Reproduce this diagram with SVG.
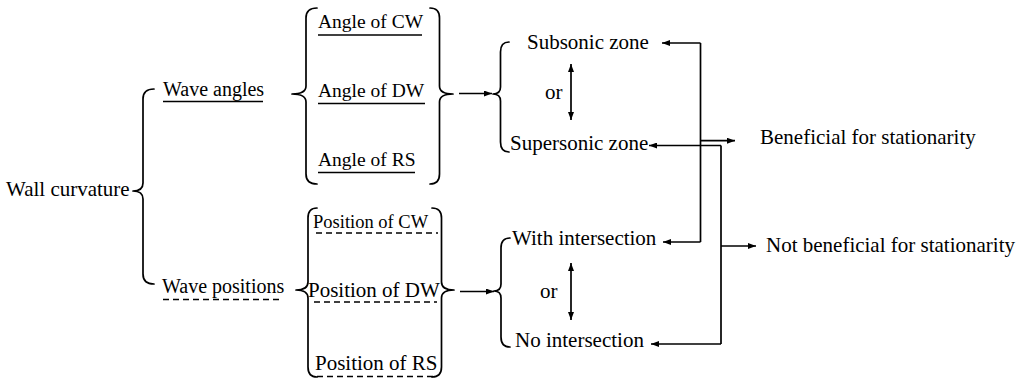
<svg xmlns="http://www.w3.org/2000/svg" width="1028" height="378" viewBox="0 0 1028 378">
<style>
text{font-family:"Liberation Serif","Times New Roman",serif;font-size:21px;fill:#000}
.brace{fill:none;stroke:#000;stroke-width:1.7;stroke-linejoin:round;stroke-linecap:round}
.ul{stroke:#000;stroke-width:1.3}
.dl{stroke:#000;stroke-width:1.3;stroke-dasharray:6,4}
.c{fill:none;stroke:#000;stroke-width:1.7}
</style>
<defs>
<marker id="ah" markerUnits="userSpaceOnUse" markerWidth="8" markerHeight="6" refX="8" refY="3" orient="auto-start-reverse">
<path d="M0,0 L8,3 L0,6 z" fill="#000"/>
</marker>
</defs>
<rect width="1028" height="378" fill="#fff"/>

<g id="wall-curvature">
<text x="6" y="196">Wall curvature</text>
<path class="brace" d="M154,89 Q143,89 143,99 L143,183 Q143,191 133,191 Q143,191 143,199 L143,274 Q143,284 154,284"/>
</g>

<g id="wave-angles">
<text x="163" y="96" style="font-size:20px">Wave angles</text>
<line class="ul" x1="163" y1="101.5" x2="263" y2="101.5"/>
<path class="brace" d="M317,8 Q306,8 306,18 L306,86 Q306,94 292,94 Q306,94 306,102 L306,174 Q306,184 317,184"/>
<path class="brace" d="M430,8 Q439.5,8 439.5,18 L439.5,86 Q439.5,94 453,94 Q439.5,94 439.5,102 L439.5,174 Q439.5,184 430,184"/>
</g>

<g id="angle-cw">
<text x="318" y="28" style="font-size:19.5px">Angle of CW</text>
<line class="ul" x1="318" y1="35" x2="422" y2="35"/>
</g>
<g id="angle-dw">
<text x="318" y="97" style="font-size:19.5px">Angle of DW</text>
<line class="ul" x1="318" y1="103.5" x2="425" y2="103.5"/>
</g>
<g id="angle-rs">
<text x="318" y="166" style="font-size:19.5px">Angle of RS</text>
<line class="ul" x1="318" y1="172.5" x2="415" y2="172.5"/>
</g>

<g id="wave-positions">
<text x="162" y="293" style="font-size:20px">Wave positions</text>
<line class="dl" x1="163" y1="299.5" x2="280" y2="299.5"/>
<path class="brace" d="M317,208 Q308,208 308,218 L308,282 Q308,290 296,290 Q308,290 308,298 L308,367 Q308,377 317,377"/>
<path class="brace" d="M432,208 Q441.5,208 441.5,218 L441.5,282 Q441.5,290 454,290 Q441.5,290 441.5,298 L441.5,367 Q441.5,377 432,377"/>
</g>

<g id="position-cw">
<text x="313" y="228" style="font-size:18.5px">Position of CW</text>
<line class="dl" x1="316" y1="233" x2="438" y2="233"/>
</g>
<g id="position-dw">
<text x="308" y="297">Position of DW</text>
<line class="dl" x1="314" y1="302" x2="437" y2="302"/>
</g>
<g id="position-rs">
<text x="315" y="370">Position of RS</text>
<line class="dl" x1="317" y1="376.5" x2="435" y2="376.5"/>
</g>

<g id="zones">
<path class="brace" d="M509,42 Q500.5,42 500.5,52 L500.5,87 Q500.5,94 493,94 Q500.5,94 500.5,101 L500.5,142 Q500.5,152 509,152"/>
<text x="527" y="49">Subsonic zone</text>
<text x="545" y="99">or</text>
<text x="510" y="150">Supersonic zone</text>
</g>

<g id="intersections">
<path class="brace" d="M510,238 Q501,238 501,248 L501,284 Q501,291 494,291 Q501,291 501,298 L501,337 Q501,347 510,347"/>
<text x="512" y="245">With intersection</text>
<text x="540" y="298">or</text>
<text x="515" y="347">No intersection</text>
</g>

<g id="beneficial">
<text x="760" y="144">Beneficial for stationarity</text>
</g>
<g id="not-beneficial">
<text x="766" y="252">Not beneficial for stationarity</text>
</g>

<g id="connectors">
<line class="c" x1="459" y1="93.5" x2="492" y2="93.5" marker-end="url(#ah)"/>
<line class="c" x1="460" y1="291.5" x2="494" y2="291.5" marker-end="url(#ah)"/>
<line class="c" x1="571" y1="64" x2="571" y2="120" marker-start="url(#ah)" marker-end="url(#ah)"/>
<line class="c" x1="571" y1="263" x2="571" y2="320" marker-start="url(#ah)" marker-end="url(#ah)"/>
<path class="c" d="M700.5,43 L700.5,242" />
<line class="c" x1="700.5" y1="43" x2="662" y2="43" marker-end="url(#ah)"/>
<line class="c" x1="700.5" y1="242" x2="663" y2="242" marker-end="url(#ah)"/>
<line class="c" x1="700.5" y1="140.7" x2="735" y2="140.7" marker-end="url(#ah)"/>
<path class="c" d="M721,145.5 L721,344"/>
<line class="c" x1="721" y1="145.5" x2="649" y2="145.5" marker-end="url(#ah)"/>
<line class="c" x1="721" y1="344" x2="651" y2="344" marker-end="url(#ah)"/>
<line class="c" x1="721" y1="246" x2="756" y2="246" marker-end="url(#ah)"/>
</g>
</svg>
